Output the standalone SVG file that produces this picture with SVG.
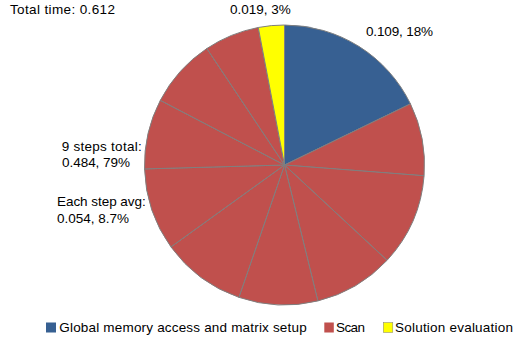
<svg xmlns="http://www.w3.org/2000/svg" width="514" height="341" viewBox="0 0 514 341">
<style>
text{font-family:"Liberation Sans",Arial,sans-serif;font-size:13.5px;fill:#000}
.s{stroke:#7F7F7F;stroke-width:1;stroke-linejoin:round}
.b{fill:#376092}.r{fill:#C0504D}.y{fill:#FFFF00}
</style>
<rect width="514" height="341" fill="#fff"/>
<g id="pie">
<g id="slice-global"><path class="s b" d="M284.5,165 L284.5,25 A140,140 0 0 1 410.44,103.85 Z"/></g>
<g id="slice-scan">
<path class="s r" d="M284.5,165 L410.44,103.85 A140,140 0 0 1 424.09,175.74 Z"/>
<path class="s r" d="M284.5,165 L424.09,175.74 A140,140 0 0 1 387.05,260.30 Z"/>
<path class="s r" d="M284.5,165 L387.05,260.30 A140,140 0 0 1 317.89,300.95 Z"/>
<path class="s r" d="M284.5,165 L317.89,300.95 A140,140 0 0 1 238.92,297.37 Z"/>
<path class="s r" d="M284.5,165 L238.92,297.37 A140,140 0 0 1 170.95,246.90 Z"/>
<path class="s r" d="M284.5,165 L170.95,246.90 A140,140 0 0 1 144.55,168.91 Z"/>
<path class="s r" d="M284.5,165 L144.55,168.91 A140,140 0 0 1 160.32,100.36 Z"/>
<path class="s r" d="M284.5,165 L160.32,100.36 A140,140 0 0 1 206.83,48.52 Z"/>
<path class="s r" d="M284.5,165 L206.83,48.52 A140,140 0 0 1 258.27,27.48 Z"/>
</g>
<g id="slice-solution"><path class="s y" d="M284.5,165 L258.27,27.48 A140,140 0 0 1 284.5,25 Z"/></g>
</g>
<g id="labels">
<text x="10" y="13.5" textLength="105">Total time: 0.612</text>
<text x="230" y="14" textLength="60.7">0.019, 3%</text>
<text x="366" y="35.5" textLength="67">0.109, 18%</text>
<text x="61.7" y="151" textLength="80">9 steps total:</text>
<text x="62" y="166.5" textLength="68">0.484, 79%</text>
<text x="57" y="206" textLength="88.7">Each step avg:</text>
<text x="57" y="223" textLength="72">0.054, 8.7%</text>
</g>
<g id="legend">
<rect x="46" y="322.5" width="10" height="10" fill="#376092"/>
<text x="59.3" y="331.5" textLength="247.4">Global memory access and matrix setup</text>
<rect x="324.3" y="322.5" width="9.5" height="10" fill="#C0504D"/>
<text x="336" y="331.5" textLength="29">Scan</text>
<rect x="383.3" y="322.5" width="9.5" height="10" fill="#FFFF00" stroke="#7F7F7F" stroke-width="0.5"/>
<text x="395" y="331.5" textLength="118">Solution evaluation</text>
</g>
</svg>
